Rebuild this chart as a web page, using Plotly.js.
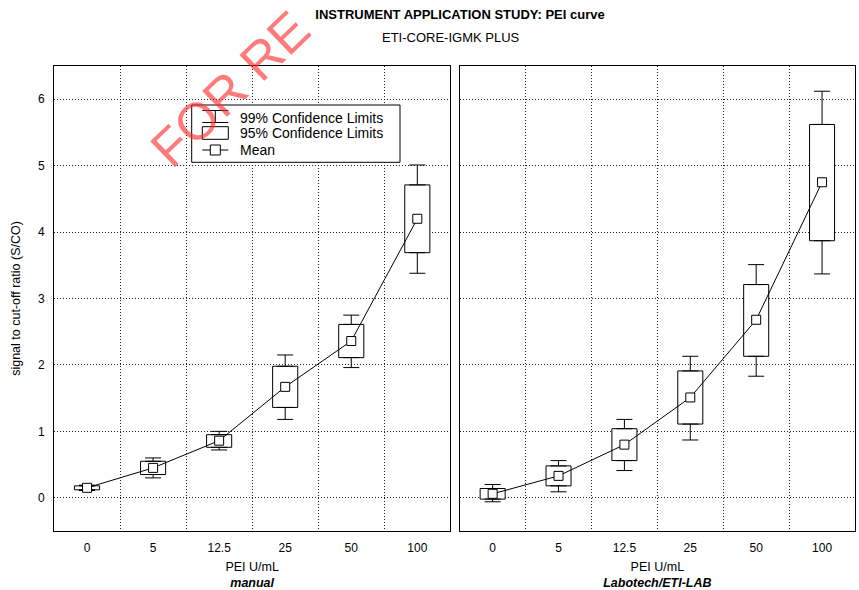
<!DOCTYPE html>
<html>
<head>
<meta charset="utf-8">
<script src="https://cdn.plot.ly/plotly-3.0.1.min.js"></script>
<style>html,body{margin:0;padding:0;background:#fff;}#chart{width:859px;height:590px;}</style>
</head>
<body>
<div id="chart"></div>
<script>
// ---- data ----
const categories = ['0', '5', '12.5', '25', '50', '100'];

const manualMean = [0.15, 0.45, 0.86, 1.67, 2.36, 4.20];
const manualLo95 = [0.12, 0.35, 0.76, 1.36, 2.11, 3.69];
const manualHi95 = [0.18, 0.55, 0.95, 1.98, 2.61, 4.71];
const manualLo99 = [0.11, 0.30, 0.72, 1.18, 1.96, 3.38];
const manualHi99 = [0.19, 0.60, 1.00, 2.15, 2.75, 5.01];

const labMean = [0.06, 0.33, 0.80, 1.51, 2.68, 4.75];
const labLo95 = [-0.02, 0.18, 0.56, 1.11, 2.13, 3.87];
const labHi95 = [0.14, 0.48, 1.04, 1.91, 3.21, 5.62];
const labLo99 = [-0.06, 0.09, 0.41, 0.87, 1.83, 3.37];
const labHi99 = [0.20, 0.56, 1.18, 2.13, 3.51, 6.12];

const titleText = 'INSTRUMENT APPLICATION STUDY: PEI curve';
const subtitleText = 'ETI-CORE-IGMK PLUS';
const xTitle = 'PEI U/mL';
const panelNames = ['manual', 'Labotech/ETI-LAB'];
const yTitle = 'signal to cut-off ratio (S/CO)';
const legendLabels = ['99% Confidence Limits', '95% Confidence Limits', 'Mean'];
const watermark = 'FOR RE';

// ---- build traces ----
function panelTraces(mean, lo95, hi95, lo99, hi99, xa, ya) {
  const zeros = mean.map(() => 0);
  return [
    { // 95% box
      type: 'bar', x: categories, base: lo95, y: hi95.map((h, i) => h - lo95[i]),
      width: 0.38, xaxis: xa, yaxis: ya,
      marker: {color: '#ffffff', line: {color: '#000', width: 1}},
      hoverinfo: 'skip'
    },
    { // upper 99% whisker
      type: 'scatter', mode: 'markers', x: categories, y: hi95, xaxis: xa, yaxis: ya,
      marker: {size: 1, color: 'rgba(0,0,0,0)'},
      error_y: {type: 'data', symmetric: false, array: hi99.map((h, i) => h - hi95[i]),
                arrayminus: zeros, width: 8, thickness: 1, color: '#000'},
      hoverinfo: 'skip'
    },
    { // lower 99% whisker
      type: 'scatter', mode: 'markers', x: categories, y: lo95, xaxis: xa, yaxis: ya,
      marker: {size: 1, color: 'rgba(0,0,0,0)'},
      error_y: {type: 'data', symmetric: false, array: zeros,
                arrayminus: lo95.map((l, i) => l - lo99[i]), width: 8, thickness: 1, color: '#000'},
      hoverinfo: 'skip'
    },
    { // mean
      type: 'scatter', mode: 'lines+markers', x: categories, y: mean, xaxis: xa, yaxis: ya,
      line: {color: '#000', width: 1},
      marker: {symbol: 'square', size: 9, color: '#fff', line: {color: '#000', width: 1}}
    }
  ];
}

const data = [].concat(
  panelTraces(manualMean, manualLo95, manualHi95, manualLo99, manualHi99, 'x', 'y'),
  panelTraces(labMean, labLo95, labHi95, labLo99, labHi99, 'x2', 'y2')
);

// ---- layout helpers (pixel -> paper) ----
const ML = 54, MR = 4, MT = 66, MB = 59, W = 859, H = 590;
const PW = W - ML - MR, PH = H - MT - MB;
const P = px => (px - ML) / PW;
const Q = py => (H - MB - py) / PH;

const gridStyle = {showgrid: true, gridcolor: '#222', gridwidth: 1, griddash: '1px,2px'};

function xAxis(domain, anchor, name) {
  return Object.assign({
    type: 'category', domain: domain, anchor: anchor, range: [-0.5, 5.5],
    tickson: 'boundaries', ticks: '', showline: true, mirror: true,
    linecolor: '#000', linewidth: 1, zeroline: false, fixedrange: true,
    ticklabelstandoff: 6, tickfont: {size: 12},
    title: {text: xTitle + '<br><b><i>' + name + '</i></b>', font: {size: 12.5}, standoff: 8}
  }, gridStyle);
}

const yBase = Object.assign({
  range: [-0.5, 6.5], tick0: 0, dtick: 1, ticks: '', showline: true, mirror: true,
  linecolor: '#000', linewidth: 1, zeroline: false, fixedrange: true, tickfont: {size: 12}
}, gridStyle);

const lx0 = 202.3, lx1 = 228.3, lxc = 215.3;
const shapes = [
  {type: 'rect', xref: 'paper', yref: 'paper', x0: P(191.7), x1: P(400), y0: Q(105), y1: Q(162.3),
   fillcolor: '#fff', line: {color: '#000', width: 1}, layer: 'above'},
  // 99% symbol
  {type: 'line', xref: 'paper', yref: 'paper', x0: P(lx0), x1: P(lx1), y0: Q(110.5), y1: Q(110.5), line: {color: '#000', width: 1}},
  {type: 'line', xref: 'paper', yref: 'paper', x0: P(lx0), x1: P(lx1), y0: Q(122.5), y1: Q(122.5), line: {color: '#000', width: 1}},
  {type: 'line', xref: 'paper', yref: 'paper', x0: P(lxc), x1: P(lxc), y0: Q(110.5), y1: Q(122.5), line: {color: '#000', width: 1}},
  // 95% symbol
  {type: 'rect', xref: 'paper', yref: 'paper', x0: P(lx0), x1: P(lx1), y0: Q(126.7), y1: Q(139.3),
   fillcolor: '#fff', line: {color: '#000', width: 1}},
  // mean symbol
  {type: 'line', xref: 'paper', yref: 'paper', x0: P(lx0), x1: P(lx1), y0: Q(150), y1: Q(150), line: {color: '#000', width: 1}},
  {type: 'rect', xref: 'paper', yref: 'paper', x0: P(lxc - 5), x1: P(lxc + 5), y0: Q(145), y1: Q(155),
   fillcolor: '#fff', line: {color: '#000', width: 1}}
];

const legendY = [118.3, 133.3, 150];
const annotations = legendLabels.map((t, i) => ({
  text: t, xref: 'paper', yref: 'paper', x: P(238), y: Q(legendY[i]),
  xanchor: 'left', yanchor: 'middle', showarrow: false, font: {size: 14, color: '#000'}
}));
annotations.push({
  text: subtitleText, xref: 'paper', yref: 'paper', x: P(451), y: Q(37),
  xanchor: 'center', yanchor: 'middle', showarrow: false, font: {size: 13, color: '#000'}
});
annotations.push({
  text: watermark, xref: 'paper', yref: 'paper', x: P(230), y: Q(89),
  xanchor: 'center', yanchor: 'middle', showarrow: false, textangle: -44,
  font: {size: 52, color: 'rgba(255,40,40,0.62)'}
});

const layout = {
  width: W, height: H,
  margin: {l: ML, r: MR, t: MT, b: MB, pad: 0},
  paper_bgcolor: '#fff', plot_bgcolor: '#fff',
  font: {family: '"Liberation Sans", Arial, sans-serif', size: 12, color: '#000'},
  showlegend: false,
  bargap: 0,
  title: {text: '<b>' + titleText + '</b>', x: 460 / W, xanchor: 'center', y: 1 - 14 / H, yanchor: 'middle',
          font: {size: 13}},
  xaxis: xAxis([0, 0.4948], 'y', panelNames[0]),
  xaxis2: xAxis([0.5065, 1], 'y2', panelNames[1]),
  yaxis: Object.assign({}, yBase, {anchor: 'x', ticklabelstandoff: 6,
    title: {text: yTitle, font: {size: 12.5}, standoff: 14}}),
  yaxis2: Object.assign({}, yBase, {anchor: 'x2', matches: 'y', showticklabels: false}),
  shapes: shapes,
  annotations: annotations
};

Plotly.newPlot('chart', data, layout, {displayModeBar: false, staticPlot: true});
</script>
</body>
</html>
